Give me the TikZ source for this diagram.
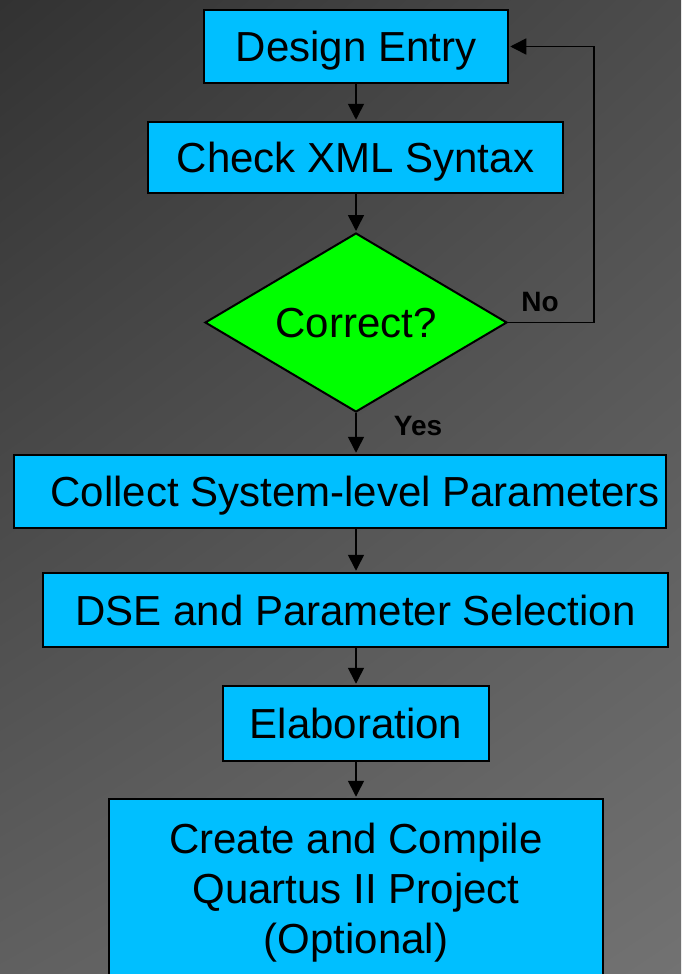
\documentclass[tikz,border=0pt]{standalone}
\usepackage{fontspec}
\setmainfont{Liberation Sans}
\usetikzlibrary{shapes,shadings,arrows.meta,calc}
\definecolor{boxblue}{RGB}{0,191,255}
\definecolor{boxgreen}{RGB}{0,255,0}
\definecolor{bgtl}{RGB}{50,50,50}
\definecolor{bgtr}{RGB}{76,76,76}
\definecolor{bgbl}{RGB}{96,96,96}
\definecolor{bgbr}{RGB}{114,114,114}

\begin{document}
\begin{tikzpicture}[x=1pt,y=-1pt,
	boxbase/.style={draw=black,line width=2.5pt,fill=boxblue,inner sep=0pt,font=\fontsize{42}{50}\selectfont},
	block/.style={boxbase,text height=30pt,text depth=0pt},
	decision/.style={diamond,aspect=1.69,draw=black,line width=2pt,fill=boxgreen,inner sep=0pt,text height=30pt,text depth=0pt,font=\fontsize{42}{50}\selectfont},
	flow/.style={line width=1.6pt,shorten >=1pt,-{Triangle[length=16pt,width=16pt]}},
	lbl/.style={font=\bfseries\fontsize{28}{32}\selectfont}]
\useasboundingbox (0,0) rectangle (681,974);
\shade[upper left=bgtl,upper right=bgtr,lower left=bgbl,lower right=bgbr] (0,0) rectangle (681,974);

\node[block,minimum width=304pt,minimum height=73pt](entry) at (356,46.5){Design Entry};
\node[block,minimum width=415pt,minimum height=71pt](syntax) at (355.5,157.5){Check XML Syntax};
\node[decision,minimum width=302pt,minimum height=179pt](correct) at (356,322.5){Correct?};
\node[block,minimum width=652pt,minimum height=73pt](collect) at (340,491.5){\hspace*{30pt}Collect System-level Parameters};
\node[block,minimum width=625pt,minimum height=74pt](dse) at (355.5,610){DSE and Parameter Selection};
\node[block,minimum width=266pt,minimum height=75pt](elab) at (356,723.5){Elaboration};
\node[boxbase,align=center,minimum width=494pt,minimum height=188pt](create) at (356,893){Create and Compile\\Quartus II Project\\(Optional)};

\node[lbl](no) at (540,302){No};
\node[lbl](yes) at (418,426){Yes};
\coordinate (back) at (594,0);

\draw[flow](entry.south)to(entry.south|-syntax.north);
\draw[flow](correct.north|-syntax.south)to(correct.north);
\draw[flow](correct.south)to(correct.south|-collect.north);
\draw[flow](correct.south|-collect.south)to(correct.south|-dse.north);
\draw[flow](elab.north|-dse.south)to(elab.north);
\draw[flow](elab.south)to(create.north);
\draw[flow](correct.east)to(correct.east-|back)|-(entry.east);
\end{tikzpicture}
\end{document}
